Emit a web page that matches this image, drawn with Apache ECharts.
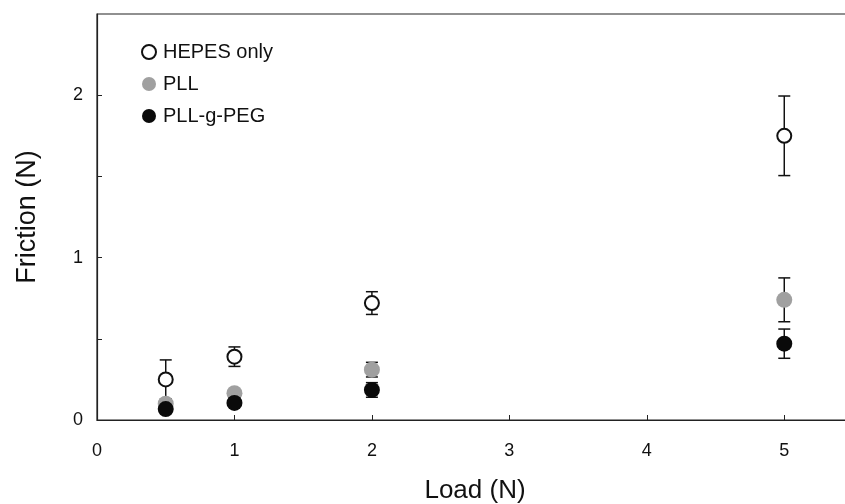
<!DOCTYPE html>
<html>
<head>
<meta charset="utf-8">
<script src="https://cdn.jsdelivr.net/npm/echarts@6/dist/echarts.min.js"></script>
<style>
  html, body { margin: 0; padding: 0; background: #fff; }
  #main { width: 845px; height: 504px; }
</style>
</head>
<body>
<div id="main"></div>
<script>
var loads = [0.5, 1, 2, 5];
var hepes = [0.25, 0.39, 0.72, 1.75];
var hepesErr = [0.12, 0.06, 0.07, 0.245];
var pll = [0.10, 0.165, 0.31, 0.74];
var pllErr = [0.02, 0.02, 0.045, 0.135];
var peg = [0.067, 0.105, 0.185, 0.47];
var pegErr = [0.02, 0.02, 0.045, 0.09];
var xTicks = [0, 1, 2, 3, 4, 5];
var yTicks = [0, 1, 2];

function points(ys) {
    return loads.map(function (x, i) { return [x, ys[i]]; });
}
function bars(ys, es) {
    return loads.map(function (x, i) { return [x, ys[i] - es[i], ys[i] + es[i]]; });
}

// vertical error bar with caps
function errorSeries(ys, es) {
    return {
        type: 'custom',
        silent: true,
        z: 1,
        data: bars(ys, es),
        renderItem: function (params, api) {
            var lo = api.coord([api.value(0), api.value(1)]);
            var hi = api.coord([api.value(0), api.value(2)]);
            var w = 6;
            var st = { stroke: '#111', lineWidth: 1.5 };
            return {
                type: 'group',
                children: [
                    { type: 'line', shape: { x1: hi[0], y1: hi[1], x2: lo[0], y2: lo[1] }, style: st },
                    { type: 'line', shape: { x1: hi[0] - w, y1: hi[1], x2: hi[0] + w, y2: hi[1] }, style: st },
                    { type: 'line', shape: { x1: lo[0] - w, y1: lo[1], x2: lo[0] + w, y2: lo[1] }, style: st }
                ]
            };
        }
    };
}

var dom = document.getElementById('main');
var myChart = echarts.init(dom);
var option = {
    animation: false,
    textStyle: { fontFamily: 'Liberation Sans, Arial, sans-serif' },
    grid: {
        left: 97, top: 14, width: 756, height: 406,
        outerBoundsMode: 'none',
        show: true, borderColor: '#222', borderWidth: 1.2
    },
    legend: {
        orient: 'vertical',
        left: 136, top: 37,
        itemGap: 12,
        itemWidth: 14, itemHeight: 14,
        textStyle: { fontSize: 20, color: '#111', padding: [0, 0, 0, 2], fontFamily: 'Liberation Sans, Arial, sans-serif' },
        data: [
            { name: 'HEPES only', icon: 'emptyCircle', itemStyle: { borderWidth: 1.2 } },
            { name: 'PLL', icon: 'circle' },
            { name: 'PLL-g-PEG', icon: 'circle' }
        ]
    },
    xAxis: {
        type: 'value',
        min: 0, max: 5.5, interval: 1,
        name: 'Load (N)',
        nameLocation: 'middle',
        nameGap: 58,
        nameTextStyle: { fontSize: 26, color: '#111' },
        axisLine: { lineStyle: { color: '#222', width: 1.2 } },
        axisTick: { inside: true, length: 5, lineStyle: { color: '#222' } },
        axisLabel: {
            fontSize: 18, color: '#111', margin: 22,
            formatter: function (v) { return xTicks.indexOf(v) >= 0 ? String(v) : ''; }
        },
        splitLine: { show: false }
    },
    yAxis: {
        type: 'value',
        min: 0, max: 2.5, interval: 0.5,
        name: 'Friction (N)',
        nameLocation: 'middle',
        nameGap: 56,
        nameTextStyle: { fontSize: 27, color: '#111' },
        axisLine: { show: true, lineStyle: { color: '#222', width: 1.2 } },
        axisTick: { show: true, inside: true, length: 5, lineStyle: { color: '#222' } },
        axisLabel: {
            fontSize: 18, color: '#111', margin: 14,
            showMaxLabel: false,
            formatter: function (v) { return yTicks.indexOf(v) >= 0 ? String(v) : ''; }
        },
        splitLine: { show: false }
    },
    series: [
        errorSeries(hepes, hepesErr),
        errorSeries(pll, pllErr),
        errorSeries(peg, pegErr),
        {
            name: 'HEPES only', type: 'scatter', z: 3,
            symbol: 'emptyCircle', symbolSize: 14,
            itemStyle: { color: '#111', borderWidth: 1.5, opacity: 1 },
            data: points(hepes)
        },
        {
            name: 'PLL', type: 'scatter', z: 3,
            symbol: 'circle', symbolSize: 16,
            itemStyle: { color: '#a0a0a0', opacity: 1 },
            data: points(pll)
        },
        {
            name: 'PLL-g-PEG', type: 'scatter', z: 4,
            symbol: 'circle', symbolSize: 16,
            itemStyle: { color: '#0a0a0a', opacity: 1 },
            data: points(peg)
        }
    ]
};
myChart.setOption(option);
</script>
</body>
</html>
